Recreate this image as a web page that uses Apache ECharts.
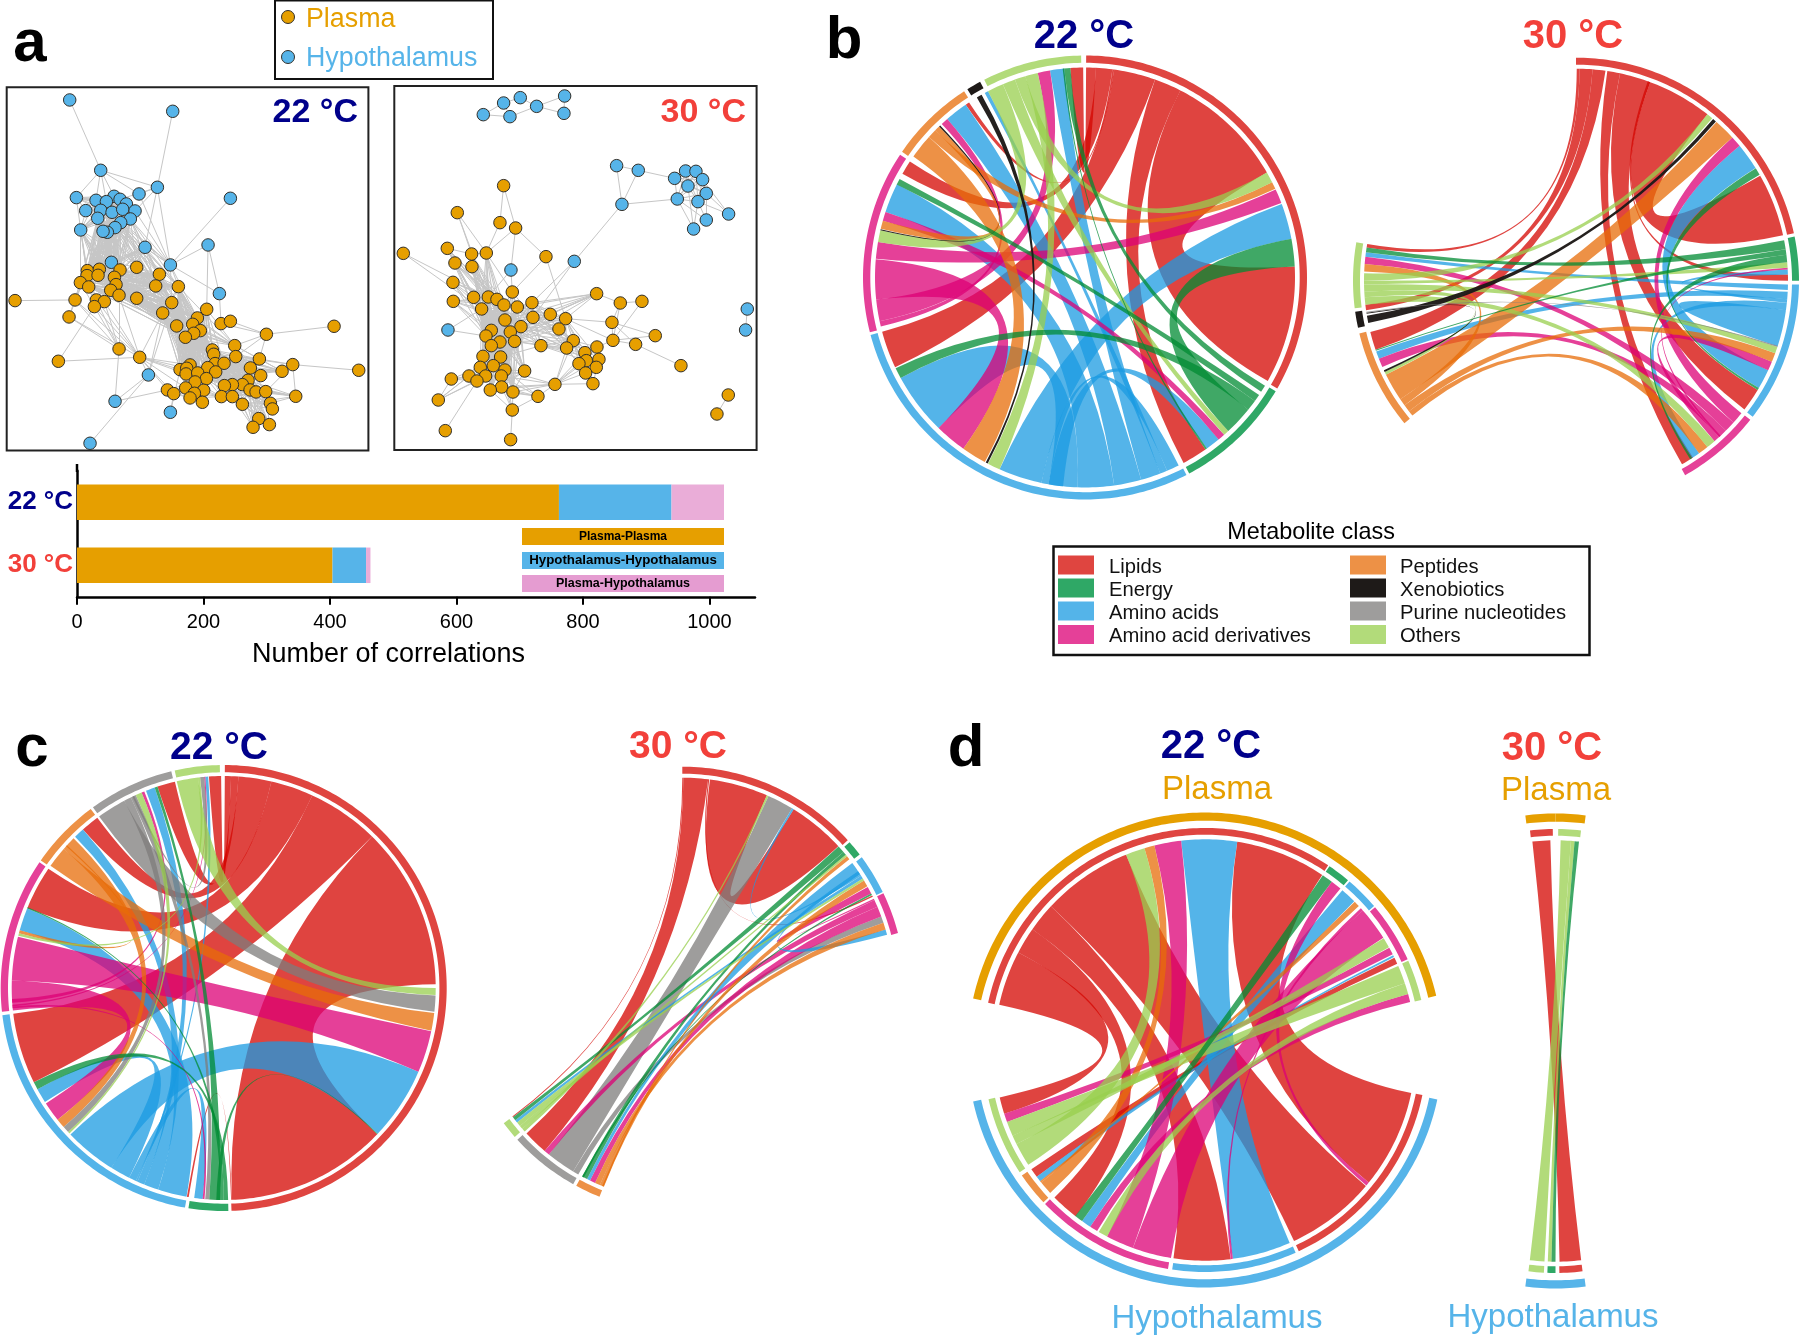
<!DOCTYPE html>
<html><head><meta charset="utf-8">
<style>html,body{margin:0;padding:0;background:#fff}#c{width:1800px;height:1335px}</style>
<script src="https://cdn.jsdelivr.net/npm/echarts@6/dist/echarts.min.js"></script>
</head><body><div id="c"></div>
<script>
// ---------- bar data ----------
const temps = ['22 °C','30 °C'];
const plasmaPlasma = [762,404];
const hypoHypo = [178,53];
const plasmaHypo = [83,7];
const barTicks = [0,200,400,600,800,1000];
const metaboliteClasses = ['Lipids','Energy','Amino acids','Amino acid derivatives','Peptides','Xenobiotics','Purine nucleotides','Others'];

// ---------- network a, 22 C ----------
const hypo22 = [[209,300],[518,334],[302,511],[472,562],[691,595],[229,593],[417,582],[288,601],[342,589],[360,598],[319,605],[379,612],[257,632],[302,631],[336,637],[368,628],[405,633],[293,655],[391,657],[362,668],[345,683],[322,697],[309,694],[242,690],[435,742],[624,735],[334,787],[511,795],[658,881],[445,1125],[345,1204],[511,1237],[270,1330]];
const plasma22 = [[262,812],[298,808],[360,810],[410,802],[261,827],[294,826],[343,832],[478,823],[241,848],[348,854],[266,861],[467,858],[535,860],[332,871],[357,886],[410,895],[45,902],[225,900],[289,900],[313,905],[283,920],[515,908],[620,928],[488,939],[207,951],[592,954],[663,971],[691,964],[578,973],[530,978],[601,992],[581,1000],[556,1012],[799,1003],[1002,979],[704,1037],[637,1050],[641,1063],[357,1047],[419,1072],[707,1070],[778,1077],[175,1084],[645,1091],[672,1090],[570,1095],[878,1094],[540,1109],[560,1105],[623,1103],[751,1104],[1076,1111],[846,1114],[558,1122],[593,1119],[647,1116],[782,1127],[619,1136],[585,1146],[744,1141],[727,1154],[697,1154],[673,1157],[557,1164],[611,1171],[502,1170],[521,1181],[750,1170],[768,1176],[797,1175],[583,1180],[570,1194],[664,1190],[697,1190],[887,1189],[607,1207],[727,1213],[811,1210],[817,1227],[776,1256],[759,1282],[808,1274]];
const edges22 = 'h0-h2 h1-h3 h2-h3 h2-h5 h2-h7 h2-h8 h2-h6 h2-h10 h3-h6 h3-h9 h3-h16 h3-h24 h3-h27 h4-h27 h25-h27 h25-h28 h27-h28 h6-h27 h24-h27 h16-h27 h18-h27 h5-h23 h5-h12 h5-h7 h12-h17 h23-h17 h23-p0 h12-h23 p16-p17 p34-p33 p51-p46 p42-p39 p42-p20 h32-h29 h30-h29 h30-p38 h30-p65 h31-p47 h29-p39 h29-p23 h31-p66 h27-p12 h27-p21 h27-p25 h25-p22 h28-p26 p27-p33 p26-p33 p33-p41 p33-p40 p35-p33 p46-p74 p46-p52 p74-p69 p74-p77 p46-p69 p46-p41 p46-p40 p41-p52 p29-p23 p23-p39 p23-p29 h29-p21 p38-p24 p39-p24 p38-p20 p39-p19 p39-p14 p38-p19';
const bicliques22 = [
 ['h13 h14 h17:23 h24 h26','p0:6 p8:10 p13 p14 p2 p3'],
 ['h7:16','h17:23 h5 h12'],
 ['h7:12','h13:16'],
 ['h14 h18 h19 h20 h24','p3 p7 p11 p12 p21 h27'],
 ['p0:6 p8:10 p13:15','p7 p11 p12 p21 p23 p29 p25 p28 p32'],
 ['p3 p7 p11 p12','p14 p15 p21 p23 p29 p25 p28 p31 p32'],
 ['p17:20 p24 p14','p38 p39 p0 p8'],
 ['p21:23 p25 p28:32 p12','p35:37 p43:45 p47:49 p53:55 p57:58 p63'],
 ['p36 p37 p40 p35 p43 p44 p49 p55 p57','p50 p56 p59:62 p67:69 p72 p73 p76 p41 p52'],
 ['p39','p45 p47 p48 p53 p63 p65 p66'],
 ['p59:62 p67:69 p76','p77:81 p73 p74'],
 ['p63 p64 p70 p71 p58','p65 p66 p72 p75 p47']
];

// ---------- network a, 30 C ----------
const hypo30 = [[295,104],[356,69],[406,53],[375,110],[455,79],[539,48],[537,100],[695,257],[760,271],[711,373],[869,295],[902,273],[933,274],[953,299],[909,318],[964,340],[877,357],[939,365],[964,420],[1031,402],[926,447],[568,544],[378,570],[189,750],[1087,687],[1082,750]];
const plasma30 = [[356,317],[217,398],[345,428],[392,444],[187,505],[55,520],[260,522],[304,519],[483,530],[210,549],[261,560],[204,607],[382,636],[635,641],[266,652],[310,651],[336,658],[205,664],[357,675],[441,668],[397,681],[706,669],[771,664],[290,687],[496,703],[444,712],[542,716],[360,720],[681,727],[408,740],[522,747],[319,751],[376,756],[303,768],[811,767],[684,781],[565,782],[345,786],[389,784],[752,793],[468,797],[319,797],[636,801],[545,804],[600,818],[294,829],[347,831],[642,838],[604,842],[582,851],[888,857],[325,857],[634,862],[286,862],[360,870],[419,873],[602,879],[349,888],[252,888],[302,888],[199,897],[276,903],[510,913],[624,911],[350,921],[316,930],[384,936],[459,949],[160,960],[382,990],[1030,945],[996,1002],[181,1052],[377,1079]];
const edges30 = 'h0-h1 h0-h3 h1-h2 h1-h3 h2-h4 h3-h4 h4-h5 h4-h6 h5-h6 h7-h8 h7-h9 h8-h9 h8-h10 h9-h16 h9-h21 h21-p19 h21-p25 h19-h13 h19-h15 h19-h17 h18-h15 h18-h17 h18-h16 h20-h16 h20-h14 h20-h17 h24-h25 p70-p71 p72-p61 p73-p69 p0-p2 p0-p3 p1-p6 p1-p7 p2-p7 p3-p7 p3-p8 p3-h22 h22-p12 h22-p15 p8-p12 p8-p26 p7-p15 p7-p12 p1-p15 p5-p15 p5-p23 p26-p13 p24-p13 p13-p21 p21-p22 p21-p28 p21-p35 p22-p35 p26-p28 p26-p35 p35-p39 p28-p35 p28-p39 p28-p34 p35-p34 p39-p50 p35-p42 p23-h23 h23-p33 p67-p69 p62-p67 p62-p63 p62-p56 p62-p49 p40-p46 p69-p66 p60-p68 p4-p6 p6-p7';
const bicliques30 = [
 ['h10:17','h11:16'],
 ['p4 p6 p7 p9 p10 p11 p17 p14','p15 p16 p18 p23 p27 p31 p33 p37'],
 ['p12 p15 p16 p18 p19 p23','p20 p25 p27 p29 p31 p32 p33 p37 p38'],
 ['p15 p16 p18 p20 p23 p27 p29 p31 p32 p37 p38','p41 p45 p46 p51 p53 p54 p57 p59 p64 p65 p66 p55'],
 ['p19 p20 p25 p27 p29 p32 p38','p24 p26 p30 p40 p13 p36 p43'],
 ['p36 p43 p44 p47 p48','p42 p49 p52 p56 p26 p30 p40 p62 p63'],
 ['p57 p64 p65 p66 p54','p62 p67 p69 p55'],
 ['p53 p59 p61 p58','p60 p68 p51 p45']
];

// ---------- chord diagrams: ring sectors [class, from deg, to deg, level] ----------
// classes 0-7 as metaboliteClasses, 8 = plasma, 9 = hypothalamus
const b22Rings = [[0,0.3,120,0],[1,120.8,152,0],[2,152.8,255,0],[3,255.7,303.6,0],[4,304.5,327,0],[5,328,331.8,0],[7,333,359,0]];
const b22Links = [
 [0,27,60,87,119.5],[0,8,19.5,244.7,255],[0,19.5,27,145,152],[0,3,7.5,299.6,303.5],[0,0.3,3,356,359.5],[0,7.5,8,325.4,326.5],
 [2,69.5,79.4,192,204],[2,224.2,241.4,182,190],[2,172,182,288.2,296.4],[2,164.5,172,319,325.4],[2,159,164.5,350.4,354.3],[2,157,159,331.5,332.5],[2,153.5,157,190,192],[2,140.5,144.5,186,190],
 [3,65.2,69.2,275.1,279.7],[3,264,275,215.4,224.2],[3,258,264,347,350.4],[3,256.5,258,317,319],[3,138.5,140.5,285.7,288.2],
 [4,305.2,312,208.5,215.4],[4,312,314.5,63,65],[4,314.5,316,283.4,285.7],
 [7,332.5,337,279.7,283],[7,337,340.5,137,138.5],[7,340.5,343.5,60,63],[7,343.5,347,204,207.5],
 [1,79.4,87,129,137],[1,296.3,298,124,126],[1,354.3,356,121,123],[1,241.4,244.4,126,129],[1,144.5,145,353.9,354.3],
 [5,329,330.5,207.6,208.2],[5,316,316.4,283,283.3]
];
const b30Rings = [[0,0,77.7,0],[1,78.6,90,0],[2,91,127.6,0],[3,128.6,150.7,0],[4,230.3,256.3,0],[5,257.8,262,0],[7,262.9,279.9,0]];
const b30Links = [
 [0,20.5,38.3,60.3,77.6],[0,12,20.5,121,127.4],[0,8.5,12,146.5,150],[0,4.5,8,251,256],[0,1,4.5,262,263.5],[0,0.2,1,279,280],[0,19.8,20.5,88.3,90],
 [2,50.5,57.9,115,120.4],[2,98,104,104,108],[2,93,95,248.4,250.5],[2,91,92.5,276.5,277.7],[2,96,98,144.5,146.8],[2,87,88.3,95,96],
 [3,128.7,132,47.5,50.5],[3,132,135,274.5,276.5],[3,135,137.5,246,248.4],[3,137.5,139.2,112.5,115],[3,86.5,87,137,137.5],
 [4,41.5,47.5,236,243.7],[4,234,236,272.5,274.5],[4,232,234,110,112.5],[4,230.5,232,141.7,144.5],
 [7,38.3,40,270,272],[7,139.2,141.7,263.5,265.5],[7,108.2,110,267,269],[7,85,86.5,269,270],[7,243.7,244.5,265.5,267],
 [1,277.7,279,79,81.5],[1,58,60,120.4,121],[1,250.7,251,81.5,83],[1,83,85,146.8,147.4],
 [5,40.3,41.3,258.5,260.5],[5,244.5,245,261,261.3],[6,107.9,108.2,261.3,261.6]
];
const c22Rings = [[0,0.3,178,0],[1,178.8,189.1,0],[2,190,263,0],[3,263.9,304.3,0],[4,304.9,323.4,0],[6,324.1,346.4,0],[7,347.3,359,0]];
const c22Links = [
 [0,44.4,89,133.6,177.8],[0,24.7,44.4,243.6,263],[0,13,24.7,292.2,304.2],[0,4,13,318.4,323.4],[0,2,4,341.8,346.7],[0,0.3,2,356,359.3],[0,177.8,178,189.5,190],
 [2,113.3,133.4,212,226.3],[2,190.1,198,285.8,292],[2,198,202,315.5,318.4],[2,202,204,338.5,341],[2,204,204.5,355,355.8],[2,237.5,241.5,206.5,212],[2,185.7,188,204.5,206.5],
 [3,101.8,113.3,272,284],[3,263.9,272,231.6,237],[3,337.2,338,266,267],[3,354.7,355,265,265.5],[3,185.2,185.7,264.5,265],
 [4,96.8,101.6,305.2,311],[4,229,231.6,311,314.9],[4,285,285.8,312,312.3],
 [6,92,96.4,324,332],[6,227.2,229,332,334],[6,183.9,185,334,335.5],[6,334.5,335,353.6,354.7],
 [7,90,91.9,347.2,353],[7,226.7,227.2,335.5,337.2],[7,284.3,285,353,353.6],
 [1,178.8,180,241.5,243.6],[1,180,181,292,292.4],[1,181,183.9,341,341.8],[1,133.4,133.6,181,182]
];
const c30Rings = [[0,0,47.9,0],[1,48.6,52.7,0],[2,53.6,64,0],[3,64.4,75.3,0],[7,228.7,233.2,0],[6,209.3,227.7,0],[4,201.8,208.4,0]];
const c30Links = [
 [0,7.5,23.5,31.7,47.4],[0,0.3,7,220.5,227.3],[0,0,0.3,233,233.3],[0,7,7.3,63.6,64],
 [6,24,31.2,211,219],[6,209.4,211,69.8,71.6],
 [3,65,67,219,220.5],[3,67,69.8,204.3,205.8],[3,61,63,64.6,65],
 [2,53.3,57,205.8,206.7],[2,57,57.5,31.2,31.7],[2,57.5,58.4,231.2,232],[2,73.5,75,56,57],
 [1,47.5,49.5,232,233],[1,49.5,50.5,206.7,208.2],[1,63,63.5,207.7,208.2],
 [4,71.6,73.5,202.9,204.3],[4,59,60.8,201.7,202.9],[4,51,52,201.8,202.2],
 [7,58.4,59,230,231.2],[7,50.5,51,229,230],[7,23.5,24,228,229]
];
const d22Rings = [[8,282.5,360,1],[8,0,76.8,1],[9,102,257.5,1],[0,282.3,393.7,0],[1,34.1,40.1,0],[2,40.6,49.6,0],[3,50,65.9,0],[7,66.3,77,0],[0,101.7,155,0],[2,155.9,188.5,0],[3,189.6,226.1,0],[4,226.7,235.6,0],[7,236.6,257.2,0]];
const d22Links = [
 [0,282.4,297.6,252.4,257],[0,297.6,305,217.9,225.6],[0,305,313,173,188.6],[0,313,338,130.2,155],[0,8.8,33.8,101.8,129],[0,64,65.8,233,235.5],
 [2,353.5,368.8,156.3,172.4],[2,40.7,45.1,213,215.7],[2,63.3,63.8,231.5,233],
 [3,346.1,353.5,200,207.7],[3,48.5,57.8,189.3,200],[3,37,40,129,130],[3,47.7,48.5,172.4,173],[3,61,63,250,252.4],[3,74.6,76.8,210.8,213],
 [4,343.3,346.1,227.3,231],[4,45.3,46.9,231,231.5],
 [7,338,343.3,237,243.5],[7,58,60.8,243.5,246],[7,66.5,71.5,246,250],[7,71.5,74.6,207.7,210.3],
 [1,34,37,215.7,218]
];
const d30Rings = [[8,352.7,360,1],[8,0,7.3,1],[9,172.7,187.3,1],[0,353.4,359.3,0],[7,0.7,6.6,0],[7,183,187,0],[1,180,182.1,0],[0,173,179,0]];
const d30Links = [[0,353.7,358.6,173,178.9],[7,1.4,4.2,183,187],[7,4.2,5.2,181.1,182.1],[1,5.2,6.4,180,181.1]];
const classInk = ['rgba(212,5,0,.75)','rgba(0,139,51,.75)','rgba(27,155,225,.75)','rgba(220,0,117,.75)','rgba(231,108,8,.75)','rgba(30,26,24,.97)','rgba(125,124,123,.75)','rgba(152,207,77,.75)'];
const classSolid = ['#DF4540','#2FA866','#54B4E9','#E54098','#ED9146','#1E1A18','#9E9D9C','#B2DB7A','#E69F00','#56B4E9'];

// ---------- drawing ----------
const chords = [
 {name:'b22',c:[1085,277.5],r:222,rib:210,lv:[[214.7,222]],rings:b22Rings,links:b22Links},
 {name:'b30',c:[1576,280.7],r:223,rib:212,lv:[[216,223]],rings:b30Rings,links:b30Links},
 {name:'c22',c:[223.7,988],r:223,rib:212,lv:[[215.7,223]],rings:c22Rings,links:c22Links},
 {name:'c30',c:[682.3,989.7],r:223,rib:212,lv:[[216,223]],rings:c30Rings,links:c30Links},
 {name:'d22',c:[1205,1050],r:237.5,rib:210.7,lv:[[215.3,222],[229.3,237.5]],rings:d22Rings,links:d22Links},
 {name:'d30',c:[1555.5,1051],r:237.5,rib:210.7,lv:[[215.3,222],[229.3,237.5]],rings:d30Rings,links:d30Links}
];
function pt(api,r,a){return api.coord([r,a]).slice(0,2);}
function arcPts(api,r,a,b){
  const n=Math.max(2,Math.ceil(Math.abs(b-a))),out=[];
  for(let i=0;i<=n;i++){const t=a+(b-a)*i/n;out.push(pt(api,r,((t%360)+360)%360));}
  return out;
}
function ribbonItem(ch){return function(p,api){
  const k=api.value(0),a0=api.value(1),a1=api.value(2),b0=api.value(3),b1=api.value(4);
  const o=pt(api,0,0);
  const A=arcPts(api,ch.rib,a0,a1),B=arcPts(api,ch.rib,b0,b1);
  let d='M'+A[0].join(' ');
  A.slice(1).forEach(q=>d+='L'+q.join(' '));
  d+='Q'+o.join(' ')+' '+B[0].join(' ');
  B.slice(1).forEach(q=>d+='L'+q.join(' '));
  d+='Q'+o.join(' ')+' '+A[0].join(' ')+'Z';
  return {type:'path',shape:{pathData:d},style:{fill:classInk[k],stroke:null}};
};}
function ringItem(ch){return function(p,api){
  const k=api.value(0),a=api.value(1),b=api.value(2),l=ch.lv[api.value(3)];
  const A=arcPts(api,l[1],a,b),B=arcPts(api,l[0],b,a);
  return {type:'polygon',shape:{points:A.concat(B)},style:{fill:classSolid[k]}};
};}
function expand(s,nH){const out=[];s.split(' ').forEach(t=>{const m=t.match(/^([hp])(\d+)(?::(\d+))?$/);const f=+m[2],e=m[3]?+m[3]:f;for(let i=f;i<=e;i++)out.push(m[1]==='h'?i:i+nH);});return out;}
function links(single,bi,nH){
  const seen=new Set(),res=[];
  const add=(a,b)=>{if(a===b)return;const key=a<b?a+'_'+b:b+'_'+a;if(seen.has(key))return;seen.add(key);res.push({source:a,target:b});};
  single.split(' ').forEach(e=>{const [a,b]=e.split('-');add(expand(a,nH)[0],expand(b,nH)[0]);});
  bi.forEach(([l,r])=>{const L=expand(l,nH),R=expand(r,nH);L.forEach(a=>R.forEach(b=>add(a,b)));});
  return res;
}
function nodes(h,p){return h.map(v=>({value:v,itemStyle:{color:'#56B4E9'}})).concat(p.map(v=>({value:v,itemStyle:{color:'#E69F00'}})));}
function netSeries(h,p,single,bi,gi){return {type:'graph',coordinateSystem:'cartesian2d',xAxisIndex:gi,yAxisIndex:gi,layout:'none',symbol:'circle',symbolSize:12.5,silent:true,
  data:nodes(h,p),links:links(single,bi,h.length),itemStyle:{borderColor:'#33302a',borderWidth:1},lineStyle:{color:'#c6c6c6',width:1,opacity:1,curveness:0},label:{show:false},z:3};}

const series=[netSeries(hypo22,plasma22,edges22,bicliques22,0),netSeries(hypo30,plasma30,edges30,bicliques30,1)];
const barColors=['#E69F00','#56B4E9','#EAADD8'];
[plasmaPlasma,hypoHypo,plasmaHypo].forEach((d,i)=>series.push({type:'bar',stack:'n',xAxisIndex:2,yAxisIndex:2,data:d,barWidth:35.5,itemStyle:{color:barColors[i]},silent:true}));
chords.forEach((ch,i)=>{
  series.push({type:'custom',coordinateSystem:'polar',polarIndex:i,renderItem:ribbonItem(ch),data:ch.links,silent:true,animation:false});
  series.push({type:'custom',coordinateSystem:'polar',polarIndex:i,renderItem:ringItem(ch),data:ch.rings,silent:true,animation:false});
});

const F='"Liberation Sans",Arial,sans-serif';
const txt=(t,x,y,size,fill,bold,align)=>({type:'text',x,y,z:20,silent:true,style:{text:t,x:0,y:0,font:(bold?'bold ':'')+size+'px '+F,fill,align:align||'center',verticalAlign:'middle'}});
const box=(x,y,w,h,fill,stroke,lw)=>({type:'rect',z:15,silent:true,shape:{x,y,width:w,height:h},style:{fill,stroke,lineWidth:lw||0}});
const NAVY='#00008B',RED='#F2403A',OR='#E69F00',BL='#56B4E9';
const gfx=[
 txt('a',30,44,60,'#000',true),txt('b',844,41,60,'#000',true),txt('c',32,749,60,'#000',true),txt('d',966,749,60,'#000',true),
 box(275,0.5,218,78.5,'#fff','#111',2),
 {type:'circle',z:16,silent:true,shape:{cx:288,cy:17,r:6.5},style:{fill:OR,stroke:'#33302a',lineWidth:1}},
 {type:'circle',z:16,silent:true,shape:{cx:288,cy:57,r:6.5},style:{fill:BL,stroke:'#33302a',lineWidth:1}},
 txt('Plasma',306,20,26.8,OR,false,'left'),txt('Hypothalamus',306,59,26.8,BL,false,'left'),
 txt('22 °C',358,113,34,NAVY,true,'right'),txt('30 °C',746,113,34,RED,true,'right'),
 box(522,528,202,17,'#E69F00'),box(522,552,202,17,'#56B4E9'),box(522,575,202,17,'#E59CD1'),
 txt('Plasma-Plasma',623,537,12,'#000',true),txt('Hypothalamus-Hypothalamus',623,560.5,13.3,'#000',true),txt('Plasma-Hypothalamus',623,584,12.5,'#000',true),
 txt('22 °C',1084,37,40,NAVY,true),txt('30 °C',1573,37,40,RED,true),
 txt('22 °C',219,748,39,NAVY,true),txt('30 °C',678,747,39,RED,true),
 txt('22 °C',1211,747,40,NAVY,true),txt('30 °C',1552,749,40,RED,true),
 txt('Plasma',1217,790,33,OR),txt('Plasma',1556,791,33,OR),
 txt('Hypothalamus',1217,1319,33,BL),txt('Hypothalamus',1553,1318,33,BL),
 txt('Metabolite class',1311,532.5,23.4,'#000'),
 box(1053.5,546.5,536,108.5,'#fff','#111',2.5)
];
const swatchY=[555.5,578.5,601.5,625];
metaboliteClasses.forEach((n,i)=>{
  const col=i<4?0:1,x=col?1350:1058,tx=col?1400:1109,y=swatchY[i%4];
  gfx.push(box(x,y,36,19,classSolid[i]));
  gfx.push(txt(n,tx,y+11.5,20.2,'#111',false,'left'));
});
gfx.push({type:'line',z:5,silent:true,shape:{x1:77,y1:464,x2:77,y2:472},style:{stroke:'#000',lineWidth:2.5}});

const hidden=(o)=>Object.assign({show:false,type:'value',scale:false},o);
const chart=echarts.init(document.getElementById('c'),null,{renderer:'canvas'});
chart.setOption({
 animation:false,backgroundColor:'#fff',
 grid:[
  {left:6.7,top:87.3,width:361.7,height:363.3,show:true,borderColor:'#222',borderWidth:2,backgroundColor:'#fff'},
  {left:394.3,top:86,width:362.3,height:364,show:true,borderColor:'#222',borderWidth:2,backgroundColor:'#fff'},
  {left:77,top:470.8,width:678,height:126}
 ],
 xAxis:[hidden({gridIndex:0,min:20,max:1105}),hidden({gridIndex:1,min:28,max:1115}),
  {gridIndex:2,type:'value',min:0,max:1072,position:'bottom',splitLine:{show:false},
   axisLine:{show:true,onZero:false,lineStyle:{color:'#000',width:2.5}},
   axisTick:{show:true,length:8,customValues:barTicks,lineStyle:{color:'#000',width:2}},
   axisLabel:{show:true,customValues:barTicks,fontFamily:F,fontSize:20,color:'#000',margin:16,hideOverlap:false,formatter:v=>String(v)},
   name:'Number of correlations',nameLocation:'middle',nameGap:44,nameTextStyle:{fontFamily:F,fontSize:27,color:'#000',padding:[0,55,0,0]}}],
 yAxis:[hidden({gridIndex:0,min:262,max:1352,inverse:true}),hidden({gridIndex:1,min:18,max:1110,inverse:true}),
  {gridIndex:2,type:'category',data:temps,inverse:true,axisLine:{show:true,lineStyle:{color:'#000',width:2.5}},axisTick:{show:false},
   axisLabel:{fontFamily:F,fontSize:26,fontWeight:'bold',margin:4,color:v=>v===temps[0]?NAVY:RED}}],
 polar:chords.map(ch=>({center:ch.c,radius:[0,ch.r]})),
 angleAxis:chords.map((ch,i)=>({polarIndex:i,type:'value',min:0,max:360,startAngle:90,clockwise:true,show:false})),
 radiusAxis:chords.map((ch,i)=>({polarIndex:i,type:'value',min:0,max:ch.r,show:false})),
 series,graphic:gfx
});
</script></body></html>
